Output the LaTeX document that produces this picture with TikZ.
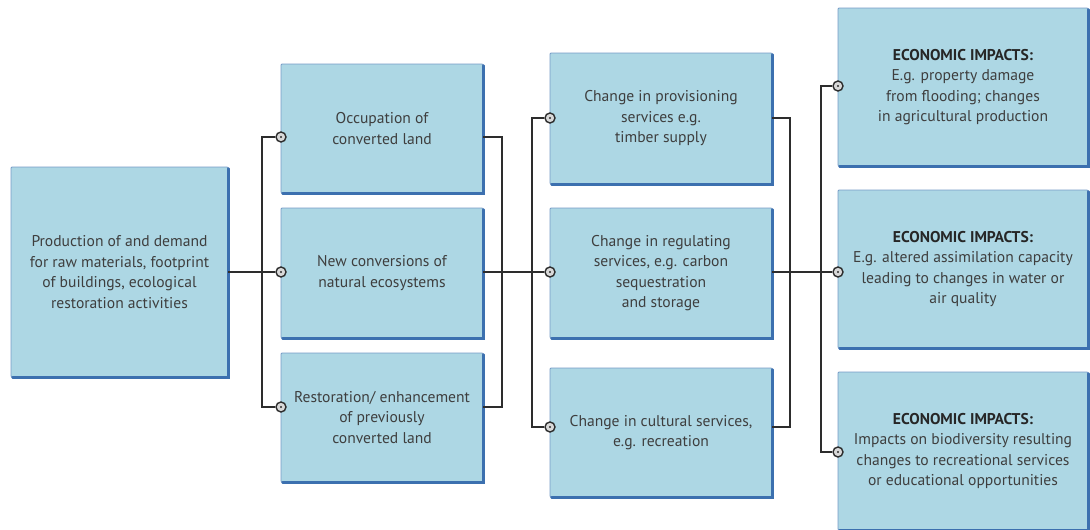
\documentclass[tikz,border=0pt]{standalone}
\usepackage{fontspec}
\setmainfont{PT Sans}

\definecolor{panel}{RGB}{173,215,228}
\definecolor{panelrim}{RGB}{60,112,175}
\definecolor{inkgray}{RGB}{62,62,62}
\definecolor{linegray}{RGB}{45,45,45}

\newcommand{\econhead}{\textcolor{black!85}{\bfseries ECONOMIC IMPACTS:}}

\begin{document}
\begin{tikzpicture}[x=1pt,y=-1pt,
  panelbox/.style={rectangle, draw=panelrim!70, line width=0.9pt, fill=panel,
    rounded corners=1pt, align=center, text=inkgray, inner sep=0pt,
    font=\fontsize{15.6}{20.5}\selectfont},
  rimedge/.style={draw=panelrim, line width=2.6pt, line cap=round},
  plug/.style={circle, draw=linegray, line width=1.4pt, fill=white!70!gray,
    minimum size=10pt, inner sep=0pt,
    path picture={\fill[linegray] (path picture bounding box.center) circle (1.2pt);}},
  link/.style={draw=linegray, line width=1.4pt}]

\useasboundingbox (0,0) rectangle (1090,530);

% source
\node[panelbox, minimum width=217pt, minimum height=210pt] (src) at (119.5,272)
  {Production of and demand\\for raw materials, footprint\\of buildings, ecological\\restoration activities};

% land use change
\node[panelbox, minimum width=202pt, minimum height=129pt] (land1) at (382,128.5) {Occupation of\\converted land};
\node[panelbox, minimum width=202pt, minimum height=130pt] (land2) at (382,273) {New conversions of\\natural ecosystems};
\node[panelbox, minimum width=202pt, minimum height=129pt] (land3) at (382,417.5) {Restoration/ enhancement\\of previously\\converted land};

% ecosystem services
\node[panelbox, minimum width=222pt, minimum height=131pt] (serv1) at (661,118.5) {Change in provisioning\\services e.g.\\timber supply};
\node[panelbox, minimum width=222pt, minimum height=130pt] (serv2) at (661,273) {Change in regulating\\services, e.g. carbon\\sequestration\\and storage};
\node[panelbox, minimum width=222pt, minimum height=129pt] (serv3) at (661,432.5) {Change in cultural services,\\e.g. recreation};

% economic impacts
\node[panelbox, minimum width=250pt, minimum height=158pt] (econ1) at (963,87) {\econhead\\E.g. property damage\\from flooding; changes\\in agricultural production};
\node[panelbox, minimum width=250pt, minimum height=158pt] (econ2) at (963,269) {\econhead\\E.g. altered assimilation capacity\\leading to changes in water or\\air quality};
\node[panelbox, minimum width=250pt, minimum height=158pt] (econ3) at (963,451) {\econhead\\Impacts on biodiversity resulting\\changes to recreational services\\or educational opportunities};

% darker right and bottom rims
\foreach \b in {src,land1,land2,land3,serv1,serv2,serv3,econ1,econ2,econ3}
  \draw[rimedge] ([yshift=-2pt]\b.north east) -- (\b.south east) -- ([xshift=2pt]\b.south west);

% plugs
\node[plug] (pa1) at (281,137) {};
\node[plug] (pa2) at (281,272) {};
\node[plug] (pa3) at (281,407) {};
\node[plug] (pb1) at (550,118) {};
\node[plug] (pb2) at (550,272) {};
\node[plug] (pb3) at (550,427) {};
\node[plug] (pc1) at (838,86) {};
\node[plug] (pc2) at (838,272) {};
\node[plug] (pc3) at (838,452) {};

\path (262,272) coordinate(busA);
\path (502,272) coordinate(busB);
\path (532,272) coordinate(busC);
\path (790,272) coordinate(busD);
\path (821,272) coordinate(busE);

\draw[link] (src.east |- pa2) -- (pa2);
\draw[link] (pa1) -| (busA) |- (pa3);
\draw[link] (land1.east |- pa1) -| (busB) |- (land3.east |- pa3);
\draw[link] (land2.east |- pb2) -- (pb2);
\draw[link] (pb1) -| (busC) |- (pb3);
\draw[link] (serv1.east |- pb1) -| (busD) |- (serv3.east |- pb3);
\draw[link] (serv2.east |- pc2) -- (pc2);
\draw[link] (pc1) -| (busE) |- (pc3);

\end{tikzpicture}
\end{document}
